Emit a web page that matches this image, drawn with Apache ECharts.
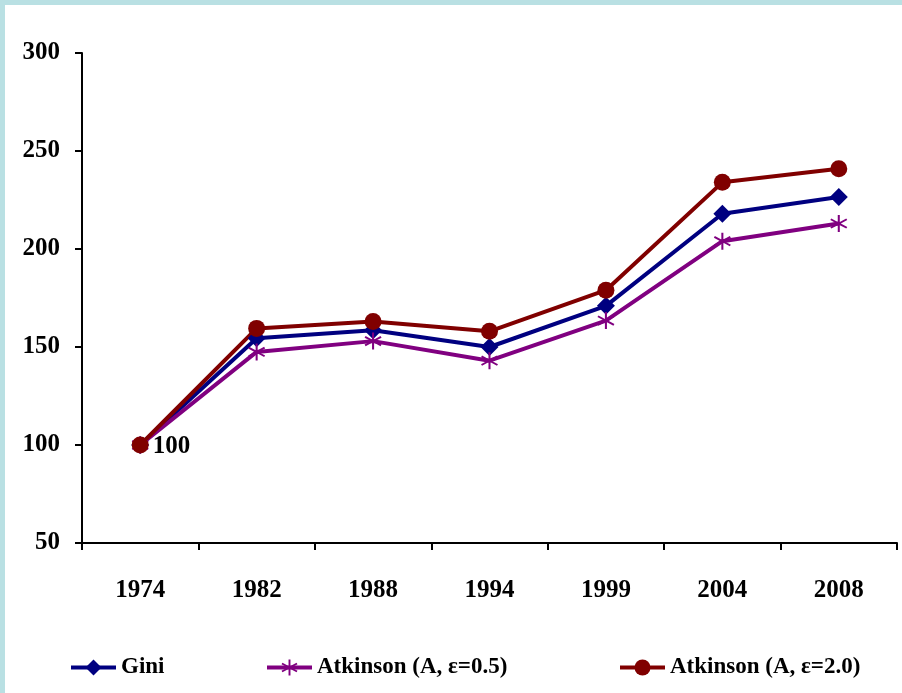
<!DOCTYPE html>
<html>
<head>
<meta charset="utf-8">
<script src="https://cdn.jsdelivr.net/npm/echarts@6/dist/echarts.min.js"></script>
<style>
    html, body { margin: 0; padding: 0; background: #b9e0e3; }
    #chart { position: absolute; left: 5px; top: 5px; width: 897px; height: 688px; background: #fff; }
</style>
</head>
<body>
<div id="chart"></div>
<script>
const years = ['1974', '1982', '1988', '1994', '1999', '2004', '2008'];
const gini = [100, 154.5, 158.5, 150, 171, 218, 226.5];
const atk05 = [100, 147.5, 153, 143, 163.5, 204, 213];
const atk20 = [100, 159.5, 163, 158, 179, 234, 241];

const FONT = 'Liberation Serif';
const asterisk = 'path://M9,0L11,0L11,7.3L17.3,3.6L18.3,5.3L12,9L18.3,12.7L17.3,14.4L11,10.7L11,18L9,18L9,10.7L2.7,14.4L1.7,12.7L8,9L1.7,5.3L2.7,3.6L9,7.3Z';

function lineSeries(name, data, color, symbol, size) {
    return {
        name: name,
        type: 'line',
        data: data,
        symbol: symbol,
        symbolSize: size,
        itemStyle: { color: color },
        lineStyle: { color: color, width: 4 },
        emphasis: { disabled: true }
    };
}

let chart = echarts.init(document.getElementById('chart'));

let atkSeries = lineSeries('Atkinson (A, ε=0.5)', atk05, '#800080', asterisk, 17);
// label "100" on the first point
atkSeries.data = atk05.map((v, i) => i === 0 ? {
    value: v,
    label: {
        show: true, position: 'right', distance: 4, offset: [0, 2],
        color: '#000', fontFamily: FONT, fontWeight: 'bold', fontSize: 25,
        formatter: '{c}'
    }
} : v);

let legendBase = {
    bottom: 9,
    itemWidth: 45,
    itemHeight: 20,
    itemGap: 6,
    lineStyle: { width: 4 },
    textStyle: { fontFamily: FONT, fontWeight: 'bold', fontSize: 23, color: '#000' }
};

let option = {
    animation: false,
    grid: { left: 77, top: 48, right: 5, bottom: 150 },
    legend: [
        Object.assign({ left: 59, data: ['Gini'] }, legendBase),
        Object.assign({ left: 255, data: ['Atkinson (A, ε=0.5)'] }, legendBase),
        Object.assign({ left: 608, data: ['Atkinson (A, ε=2.0)'] }, legendBase)
    ],
    xAxis: {
        type: 'category',
        data: years,
        boundaryGap: true,
        axisLine: { lineStyle: { color: '#000', width: 2 } },
        axisTick: { show: true, length: 7, lineStyle: { color: '#000', width: 2 } },
        axisLabel: { margin: 35, color: '#000', fontFamily: FONT, fontWeight: 'bold', fontSize: 25 }
    },
    yAxis: {
        type: 'value',
        min: 50,
        max: 300,
        interval: 50,
        splitLine: { show: false },
        axisLine: { show: true, lineStyle: { color: '#000', width: 2 } },
        axisTick: { show: true, length: 7, lineStyle: { color: '#000', width: 2 } },
        axisLabel: { margin: 22, color: '#000', fontFamily: FONT, fontWeight: 'bold', fontSize: 25 }
    },
    series: [
        lineSeries('Gini', gini, '#000080', 'diamond', 18),
        atkSeries,
        lineSeries('Atkinson (A, ε=2.0)', atk20, '#800000', 'circle', 17)
    ]
};

chart.setOption(option);
</script>
</body>
</html>
